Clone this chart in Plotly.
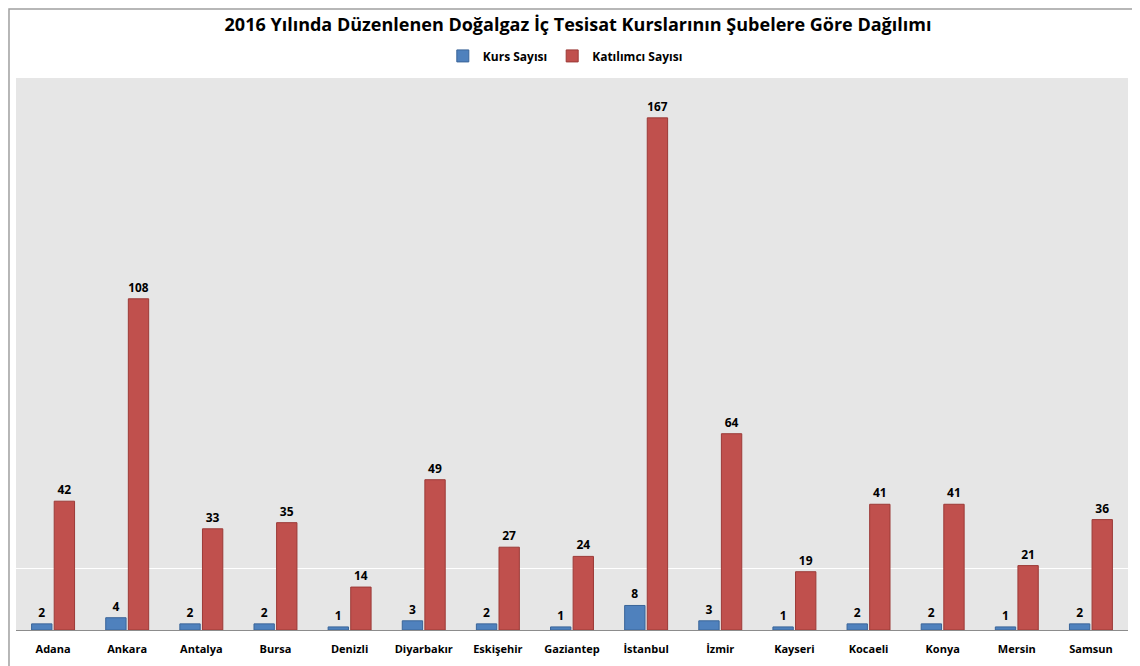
import plotly.graph_objects as go

categories = ["Adana", "Ankara", "Antalya", "Bursa", "Denizli", "Diyarbakır", "Eskişehir",
              "Gaziantep", "İstanbul", "İzmir", "Kayseri", "Kocaeli", "Konya", "Mersin", "Samsun"]
kurs = [2, 4, 2, 2, 1, 3, 2, 1, 8, 3, 1, 2, 2, 1, 2]
katilimci = [42, 108, 33, 35, 14, 49, 27, 24, 167, 64, 19, 41, 41, 21, 36]

FONT = "Open Sans"

fig = go.Figure()
fig.add_trace(go.Bar(
    name="Kurs Sayısı", x=categories, y=kurs,
    marker=dict(color="#4f81bd", line=dict(color="#3a6599", width=1)),
    text=kurs, textposition="outside", cliponaxis=False,
    textfont=dict(family=FONT, size=12, color="#000000", weight="bold"),
))
fig.add_trace(go.Bar(
    name="Katılımcı Sayısı", x=categories, y=katilimci,
    marker=dict(color="#c0504d", line=dict(color="#9c3a37", width=1)),
    text=katilimci, textposition="outside", cliponaxis=False,
    textfont=dict(family=FONT, size=12, color="#000000", weight="bold"),
))

fig.update_layout(
    width=1140, height=666,
    margin=dict(l=8, r=20, t=70, b=44),
    paper_bgcolor="white", plot_bgcolor="#e6e6e6",
    barmode="group", bargap=0.39, bargroupgap=0.1,
    font=dict(family=FONT, color="#000000"),
    title=dict(text="<b>2016 Yılında Düzenlenen Doğalgaz İç Tesisat Kurslarının Şubelere Göre Dağılımı</b>",
               x=0.5, xanchor="center", y=0.9745, yanchor="middle",
               font=dict(family=FONT, size=18, color="#000000")),
    legend=dict(orientation="h", x=0.494, xanchor="center", y=1.04, yanchor="middle",
                font=dict(family=FONT, size=12, color="#000000", weight="bold"),
                itemwidth=30, tracegroupgap=0, bgcolor="rgba(0,0,0,0)"),
    showlegend=True,
    shapes=[dict(type="rect", xref="paper", yref="paper",
                 x0=-0.0063, x1=1.0072, y0=-0.12, y1=1.125,
                 line=dict(color="#a0a0a0", width=1.5), layer="below")],
)
fig.update_xaxes(
    showline=True, linecolor="#8c8c8c", linewidth=1,
    tickfont=dict(family=FONT, size=11, color="#000000", weight="bold"),
    ticks="", ticklabelstandoff=9, showgrid=False,
)
fig.update_yaxes(
    range=[0, 180], tickvals=[20], showticklabels=False, showgrid=True,
    gridcolor="white", gridwidth=1, zeroline=False, showline=False,
)

fig.write_html("out.html")
